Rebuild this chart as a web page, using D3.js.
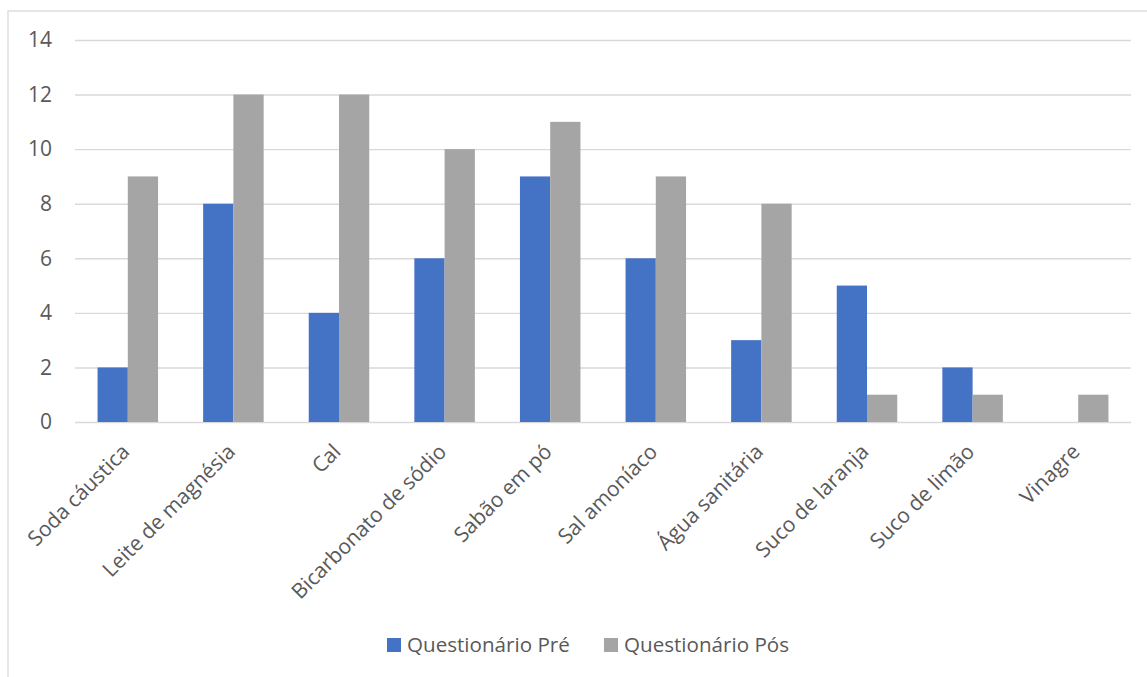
<!DOCTYPE html>
<html><head><meta charset="utf-8">
<script src="https://cdn.jsdelivr.net/npm/d3@7"></script>
<style>
html,body{margin:0;padding:0;background:#fff;}
svg{display:block;font-family:"Open Sans",sans-serif;}
</style></head>
<body>
<svg id="chart" width="1147" height="677"></svg>
<script>
const categories = ["Soda cáustica","Leite de magnésia","Cal","Bicarbonato de sódio","Sabão em pó","Sal amoníaco","Água sanitária","Suco de laranja","Suco de limão","Vinagre"];
const seriesNames = ["Questionário Pré","Questionário Pós"];
const preValues = [2,8,4,6,9,6,3,5,2,0];
const posValues = [9,12,12,10,11,9,8,1,1,1];
const yTicks = [0,2,4,6,8,10,12,14];
const colors = ["#4472C4","#A5A5A5"];

const svg = d3.select("#chart");
const plotLeft = 75, plotRight = 1131, plotTop = 40, plotBottom = 422;
const FONT = '"Open Sans", sans-serif';

// chart border
svg.append("rect").attr("x",8).attr("y",11).attr("width",1160).attr("height",700)
  .attr("fill","none").attr("stroke","#D9D9D9").attr("stroke-width",1.3);

const x = d3.scaleBand().domain(categories).range([plotLeft,plotRight]).paddingInner(0.427).paddingOuter(0.2135);
const xs = d3.scaleBand().domain(seriesNames).range([0,x.bandwidth()]);
const y = d3.scaleLinear().domain([0,14]).range([plotBottom,plotTop]);

// gridlines
const yAxis = d3.axisLeft(y).tickValues(yTicks).tickSize(-(plotRight-plotLeft)).tickPadding(23).tickFormat(d3.format("d"));
const gy = svg.append("g").attr("transform",`translate(${plotLeft},0)`).call(yAxis)
  .attr("font-family",FONT).attr("font-size",21);
gy.select(".domain").remove();
gy.selectAll(".tick line").attr("stroke","#D9D9D9").attr("stroke-width",1.4);
gy.selectAll(".tick text").attr("fill","#595959");

const data = categories.map((c,i)=>({cat:c, vals:[preValues[i],posValues[i]]}));
const groups = svg.append("g").selectAll("g").data(data).join("g")
  .attr("transform",d=>`translate(${x(d.cat)},0)`);
groups.selectAll("rect").data(d=>d.vals.map((v,j)=>({v,j}))).join("rect")
  .attr("x",d=>xs(seriesNames[d.j]))
  .attr("width",xs.bandwidth())
  .attr("y",d=>y(d.v))
  .attr("height",d=>y(0)-y(d.v))
  .attr("fill",d=>colors[d.j]);

// x axis labels
const xAxis = d3.axisBottom(x).tickSize(0).tickPadding(0);
const gx = svg.append("g").attr("transform",`translate(0,${plotBottom})`).call(xAxis)
  .attr("font-family",FONT).attr("font-size",21);
gx.select(".domain").remove();
gx.selectAll(".tick text")
  .attr("fill","#595959")
  .attr("text-anchor","end")
  .attr("dy",null)
  .attr("transform","translate(3,31) rotate(-45)");

// legend
const legend = svg.append("g").attr("font-family",FONT).attr("font-size",20.6);
const legendX = [387,604];
seriesNames.forEach((s,i)=>{
  legend.append("rect").attr("x",legendX[i]).attr("y",638).attr("width",14).attr("height",14).attr("fill",colors[i]);
  legend.append("text").attr("x",legendX[i]+20).attr("y",645).attr("dy","0.35em")
    .attr("fill","#595959").text(s);
});
</script>
</body></html>
